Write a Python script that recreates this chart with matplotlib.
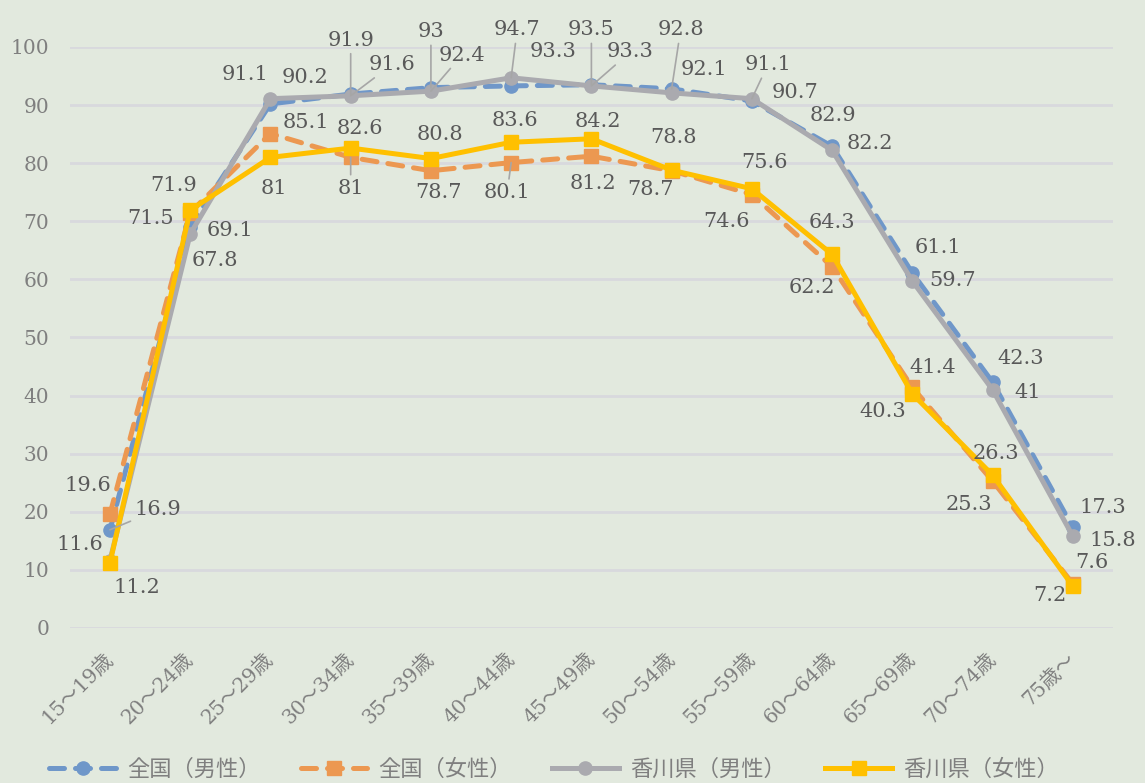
"""香川県と全国の年齢階級別労働力率（男女別）の折れ線グラフ。"""

import matplotlib

matplotlib.use("Agg")
import matplotlib.pyplot as plt

# --- データ ---
age_groups = [
    "15～19歳", "20～24歳", "25～29歳", "30～34歳", "35～39歳", "40～44歳",
    "45～49歳", "50～54歳", "55～59歳", "60～64歳", "65～69歳", "70～74歳", "75歳～",
]
series_names = ["全国（男性）", "全国（女性）", "香川県（男性）", "香川県（女性）"]
national_male = [16.9, 69.1, 90.2, 91.9, 93.0, 93.3, 93.5, 92.8, 90.7, 82.9, 61.1, 42.3, 17.3]
national_female = [19.6, 71.5, 85.1, 81.0, 78.7, 80.1, 81.2, 78.7, 74.6, 62.2, 41.4, 25.3, 7.6]
kagawa_male = [11.6, 67.8, 91.1, 91.6, 92.4, 94.7, 93.3, 92.1, 91.1, 82.2, 59.7, 41.0, 15.8]
kagawa_female = [11.2, 71.9, 81.0, 82.6, 80.8, 83.6, 84.2, 78.8, 75.6, 64.3, 40.3, 26.3, 7.2]
y_ticks = [0, 10, 20, 30, 40, 50, 60, 70, 80, 90, 100]

# --- ラベル位置（ピクセルオフセット）と引き出し線 ---
offsets_nm = [(48, 20), (40, -4), (35, 26), (0, 54), (0, 56), (42, 34), (0, 55),
              (9, 59), (43, 9), (1, 31), (26, 25), (28, 24), (30, 20)]
offsets_nf = [(-22, 29), (-40, -6), (35, 11), (0, -31), (8, -22), (-4, -30), (2, -27),
              (-21, -19), (-25, -27), (-20, -21), (20, 20), (-24, -24), (19, 21)]
offsets_km = [(-30, 16), (25, -26), (-25, 24), (41, 31), (31, 36), (6, 48), (39, 34),
              (32, 23), (16, 34), (38, 7), (40, 1), (35, -3), (40, -4)]
offsets_kf = [(27, -25), (-17, 25), (3, -31), (9, 20), (9, 24), (4, 22), (6, 17),
              (2, 33), (13, 26), (0, 32), (-30, -18), (3, 22), (-23, -9)]
leaders_nm = [1, 0, 0, 1, 1, 0, 1, 1, 0, 0, 0, 0, 0]
leaders_nf = [0, 0, 0, 1, 0, 1, 0, 0, 0, 0, 0, 0, 0]
leaders_km = [0, 0, 0, 1, 1, 1, 1, 0, 1, 0, 0, 0, 0]
leaders_kf = [0] * 13

BG = "#E2E9DE"
TEXT = "#595959"
TICK = "#7F7F7F"
GRID = "#D8D9DD"
SERIF = ["DejaVu Serif", "Noto Sans CJK JP"]

styles = [
    dict(color="#6F97C9", ls=(0, (3, 2.2)), marker="o", ms=9.5),
    dict(color="#EC9851", ls=(0, (3, 2.2)), marker="s", ms=10),
    dict(color="#AAAAAF", ls="-", marker="o", ms=9.5),
    dict(color="#FFC000", ls="-", marker="s", ms=10),
]
all_values = [national_male, national_female, kagawa_male, kagawa_female]
all_offsets = [offsets_nm, offsets_nf, offsets_km, offsets_kf]
all_leaders = [leaders_nm, leaders_nf, leaders_km, leaders_kf]

fig = plt.figure(figsize=(11.45, 7.83), dpi=100, facecolor=BG)
ax = fig.add_axes([0.061, 0.198, 0.911, 0.742], facecolor=BG)

x = list(range(len(age_groups)))
for name, vals, st in zip(series_names, all_values, styles):
    ax.plot(x, vals, color=st["color"], linestyle=st["ls"], lw=3.6,
            marker=st["marker"], markersize=st["ms"], dash_capstyle="round",
            label=name, zorder=3)

for vals, offs, leads in zip(all_values, all_offsets, all_leaders):
    for xi, v, (dx, dy), lead in zip(x, vals, offs, leads):
        arrow = None
        if lead:
            arrow = dict(arrowstyle="-", color="#A6A6A6", lw=1.2, shrinkA=1, shrinkB=0)
        ax.annotate(f"{v:g}", (xi, v), xytext=(dx, dy), textcoords="offset pixels",
                    ha="center", va="center", fontsize=15, color=TEXT,
                    family=SERIF, zorder=5, arrowprops=arrow)

ax.set_xlim(-0.5, len(age_groups) - 0.5)
ax.set_ylim(0, 100)
ax.set_yticks(y_ticks)
ax.set_yticklabels([str(t) for t in y_ticks], family=SERIF, fontsize=14.5, color=TICK)
ax.set_xticks(x)
ax.set_xticklabels(age_groups, rotation=45, ha="right", va="center",
                   rotation_mode="anchor", family=SERIF, fontsize=14.5, color=TICK)
ax.tick_params(axis="both", length=0)
ax.tick_params(axis="y", pad=15)
ax.tick_params(axis="x", pad=20)
ax.grid(axis="y", color=GRID, lw=2)
ax.set_axisbelow(True)
for s in ax.spines.values():
    s.set_visible(False)

leg = fig.legend(loc="center", bbox_to_anchor=(0.484, 0.018), ncol=4, frameon=False,
                 handlelength=3.0, columnspacing=1.8, handletextpad=0.5,
                 prop={"family": ["Noto Sans CJK JP"], "size": 16})
for t in leg.get_texts():
    t.set_color(TICK)

fig.savefig("out.png", dpi=100, facecolor=BG)
